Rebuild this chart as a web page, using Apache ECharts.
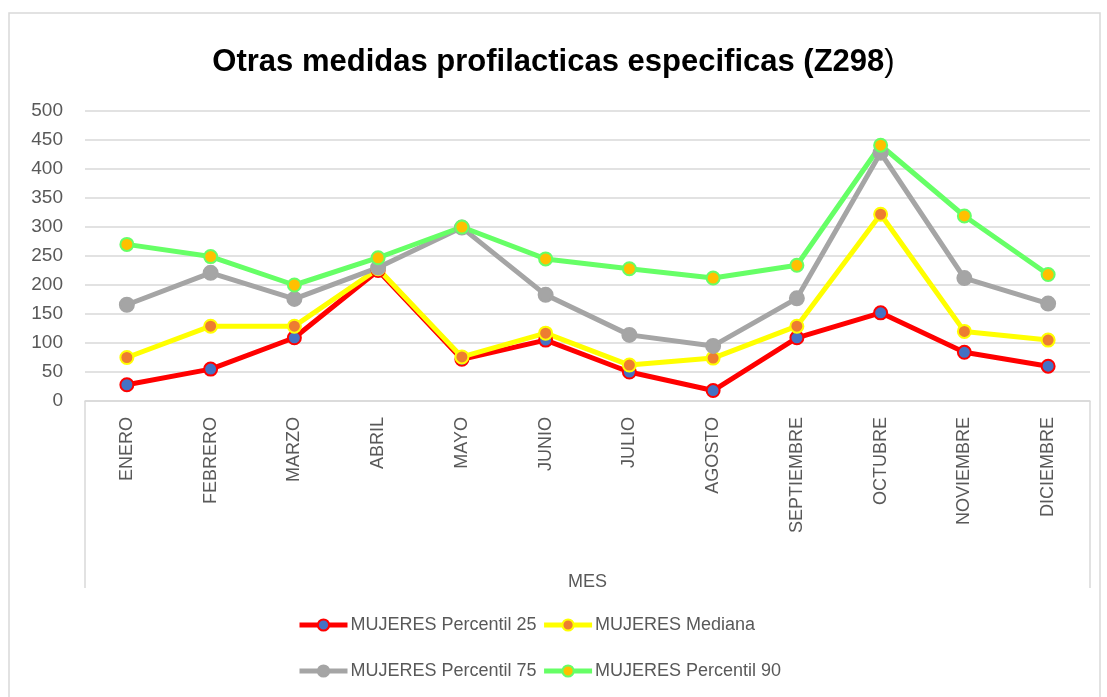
<!DOCTYPE html>
<html>
<head>
<meta charset="utf-8">
<script src="https://cdn.jsdelivr.net/npm/echarts@6/dist/echarts.min.js"></script>
<style>
  html, body { margin: 0; padding: 0; background: #fff; }
  #chart { width: 1107px; height: 697px; }
</style>
</head>
<body>
<div id="chart"></div>
<script>
// datos
var meses = ['ENERO', 'FEBRERO', 'MARZO', 'ABRIL', 'MAYO', 'JUNIO', 'JULIO', 'AGOSTO', 'SEPTIEMBRE', 'OCTUBRE', 'NOVIEMBRE', 'DICIEMBRE'];
var p25 = [28, 55, 109, 225, 72, 105, 50, 18, 109, 152, 84, 60];
var mediana = [75, 129, 129, 228, 76, 117, 62, 74, 129, 322, 120, 105];
var p75 = [166, 221, 176, 230, 299, 183, 114, 95, 177, 428, 212, 168];
var p90 = [270, 249, 200, 247, 300, 245, 228, 212, 234, 441, 319, 218];

var gridLeft = 85, gridRight = 17, gridTop = 111, gridBottom = 296;
var fuente = 'Liberation Sans, Arial, sans-serif';
var gris = '#595959';

var chart = echarts.init(document.getElementById('chart'));

function serie(nombre, datos, color, relleno, tam) {
  return {
    name: nombre,
    type: 'line',
    data: datos,
    symbol: 'circle',
    symbolSize: tam,
    lineStyle: { color: color, width: 5 },
    itemStyle: { color: relleno, borderColor: color, borderWidth: 2 }
  };
}

var leyendaComun = {
  left: 292,
  orient: 'horizontal',
  itemWidth: 48,
  itemHeight: 14,
  itemGap: 5,
  lineStyle: { width: 5 },
  textStyle: { fontFamily: fuente, fontSize: 18, color: gris, padding: [0, 0, 0, -2] }
};

var option = {
  backgroundColor: '#fff',
  animation: false,
  title: {
    text: '{b|Otras medidas profilacticas especificas (Z298}{n|)}',
    left: 'center',
    top: 42,
    textStyle: {
      rich: {
        b: { fontFamily: fuente, fontSize: 31, fontWeight: 'bold', color: '#000' },
        n: { fontFamily: fuente, fontSize: 31, fontWeight: 'normal', color: '#000' }
      }
    }
  },
  legend: [
    Object.assign({}, leyendaComun, { top: 611, data: ['MUJERES Percentil 25', 'MUJERES Mediana'] }),
    Object.assign({}, leyendaComun, { top: 657, data: ['MUJERES Percentil 75', 'MUJERES Percentil 90'] })
  ],
  grid: { left: gridLeft, right: gridRight, top: gridTop, bottom: gridBottom },
  xAxis: {
    type: 'category',
    data: meses,
    boundaryGap: true,
    name: 'MES',
    nameLocation: 'middle',
    nameGap: 172,
    nameTextStyle: { fontFamily: fuente, fontSize: 18, color: gris },
    axisLine: { lineStyle: { color: '#d9d9d9', width: 1.5 } },
    axisTick: { show: false },
    axisLabel: { rotate: 90, margin: 16, fontFamily: fuente, fontSize: 18, color: gris }
  },
  yAxis: {
    type: 'value',
    min: 0,
    max: 500,
    interval: 50,
    axisLine: { show: false },
    axisTick: { show: false },
    axisLabel: { margin: 22, fontFamily: fuente, fontSize: 19, color: gris },
    splitLine: { lineStyle: { color: '#d9d9d9', width: 1.5 } }
  },
  graphic: [
    // marco exterior del grafico
    { type: 'rect', shape: { x: 9, y: 13, width: 1091, height: 700 }, style: { fill: null, stroke: '#d9d9d9', lineWidth: 1.5 }, silent: true },
    // lineas verticales del area de etiquetas
    { type: 'line', shape: { x1: gridLeft, y1: 697 - gridBottom, x2: gridLeft, y2: 588 }, style: { stroke: '#d9d9d9', lineWidth: 1.5 }, silent: true },
    { type: 'line', shape: { x1: 1107 - gridRight, y1: 697 - gridBottom, x2: 1107 - gridRight, y2: 588 }, style: { stroke: '#d9d9d9', lineWidth: 1.5 }, silent: true }
  ],
  series: [
    serie('MUJERES Percentil 25', p25, '#ff0000', '#4472c4', 13),
    serie('MUJERES Mediana', mediana, '#ffff00', '#ed7d31', 13),
    serie('MUJERES Percentil 75', p75, '#a5a5a5', '#a5a5a5', 14),
    serie('MUJERES Percentil 90', p90, '#66ff66', '#ffc000', 13)
  ]
};

chart.setOption(option);
</script>
</body>
</html>
